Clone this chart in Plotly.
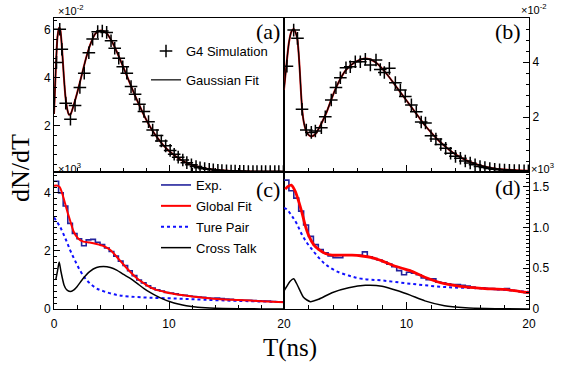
import numpy as np
import plotly.graph_objects as go

# ---------------- data ----------------
# (a) G4 simulation + Gaussian fit   (units of 1e-2)
a_t = [0.22, 0.5, 0.68, 1.02, 1.43, 1.83, 2.25, 2.63, 3.03, 3.36, 3.8, 4.2, 4.58, 4.96, 5.28,
       5.63, 5.98, 6.33, 6.7, 7.05, 7.43, 7.82, 8.22, 8.58, 8.96, 9.33, 9.71, 10.1, 10.45, 10.8,
       11.2, 11.55, 11.95, 12.35, 12.7, 13.1, 13.5, 13.85, 14.25, 14.6, 15.0, 15.4, 15.75, 16.15,
       16.5, 16.9, 17.3, 17.65, 18.05, 18.4, 18.8, 19.2, 19.55, 19.95]
a_v = [4.65, 6.03, 5.2, 2.95, 2.28, 2.85, 3.6, 4.2, 5.05, 5.62, 5.93, 5.96, 5.9, 5.55, 5.24,
       4.82, 4.47, 4.2, 3.64, 3.32, 2.9, 2.6, 2.18, 1.83, 1.6, 1.37, 1.17, 0.98, 0.82, 0.7,
       0.58, 0.47, 0.38, 0.31, 0.26, 0.22, 0.19, 0.17, 0.15, 0.14, 0.13, 0.12, 0.12, 0.11,
       0.11, 0.1, 0.1, 0.1, 0.1, 0.1, 0.1, 0.1, 0.1, 0.1]
a_fit_t = [0, 0.15, 0.3, 0.45, 0.55, 0.7, 0.85, 1.0, 1.15, 1.3, 1.45, 1.7, 2.0, 2.4, 2.8, 3.2,
           3.6, 4.0, 4.3, 4.6, 5.0, 5.5, 6.0, 6.5, 7.0, 7.5, 8.0, 8.5, 9.0, 9.5, 10, 11, 12, 13,
           14, 15, 16, 17, 18, 19, 20]
a_fit_v = [2.5, 4.3, 5.7, 6.1, 6.0, 5.2, 4.1, 3.2, 2.7, 2.47, 2.5, 2.85, 3.35, 4.1, 4.85, 5.45,
           5.85, 5.97, 5.95, 5.85, 5.55, 5.05, 4.48, 3.9, 3.32, 2.78, 2.28, 1.85, 1.5, 1.2, 0.96,
           0.6, 0.37, 0.24, 0.17, 0.13, 0.11, 0.1, 0.09, 0.09, 0.09]

# (b) G4 simulation + Gaussian fit   (units of 1e-2)
b_t = [0.24, 0.79, 1.1, 1.47, 1.82, 2.23, 2.56, 3.05, 3.37, 3.86, 4.24, 4.6, 5.06, 5.41, 5.82,
       6.23, 6.64, 7.05, 7.51, 7.86, 8.19, 8.6, 9.09, 9.5, 9.9, 10.4, 10.8, 11.2, 11.55, 12.0,
       12.4, 12.8, 13.2, 13.6, 14.0, 14.4, 14.8, 15.2, 15.6, 16.0, 16.4, 16.8, 17.2, 17.6, 18.0,
       18.4, 18.8, 19.2, 19.6, 19.95]
b_v = [3.85, 5.16, 4.86, 2.28, 1.53, 1.44, 1.49, 1.61, 2.01, 2.62, 3.07, 3.43, 3.79, 3.83, 4.01,
       4.01, 4.1, 3.89, 4.07, 3.73, 3.62, 3.77, 3.25, 2.98, 2.75, 2.44, 2.19, 1.82, 1.78, 1.32,
       1.2, 1.0, 0.86, 0.68, 0.57, 0.5, 0.4, 0.33, 0.26, 0.2, 0.16, 0.13, 0.1, 0.08, 0.07,
       0.06, 0.05, 0.05, 0.04, 0.04]
b_fit_t = [0, 0.2, 0.4, 0.6, 0.8, 1.0, 1.1, 1.2, 1.3, 1.4, 1.5, 1.6, 1.8, 2.0, 2.2, 2.5, 2.8,
           3.2, 3.5, 4.0, 4.5, 5.0, 5.5, 6.0, 6.5, 7.0, 7.5, 8.0, 8.5, 9.0, 9.5, 10, 10.5, 11,
           11.5, 12, 12.5, 13, 13.5, 14, 15, 16, 17, 18, 19, 20]
b_fit_v = [3.0, 3.9, 4.7, 5.1, 5.2, 5.0, 4.8, 4.3, 3.6, 2.8, 2.2, 1.85, 1.5, 1.35, 1.3, 1.35,
           1.55, 1.9, 2.2, 2.8, 3.3, 3.68, 3.9, 4.04, 4.12, 4.1, 3.98, 3.77, 3.5, 3.2, 2.9, 2.6,
           2.3, 2.0, 1.7, 1.44, 1.2, 0.99, 0.8, 0.64, 0.4, 0.24, 0.14, 0.09, 0.06, 0.05]

# bin edges of the experimental histograms (ns)
bin_edges = np.round(np.arange(0, 20.0001, 0.4), 2)

# (c) experiment (units of 1e3)
c_exp = [4.4, 4.0, 3.55, 2.95, 2.6, 2.42, 2.18, 2.38, 2.4, 2.3, 2.22, 2.1, 1.98, 1.82, 1.65,
         1.5, 1.32, 1.15, 1.0, 0.9, 0.8, 0.72, 0.66, 0.62, 0.57, 0.55, 0.52, 0.49, 0.47, 0.45,
         0.43, 0.41, 0.4, 0.38, 0.37, 0.38, 0.36, 0.34, 0.33, 0.32, 0.31, 0.3, 0.3, 0.29, 0.28,
         0.27, 0.27, 0.26, 0.25, 0.25]
c_fit_t = [0, 0.3, 0.5, 0.7, 0.96, 1.2, 1.4, 1.7, 2.1, 2.55, 3.1, 3.7, 4.3, 4.9, 5.45, 6.0, 6.6,
           7.2, 7.8, 8.35, 8.9, 9.5, 10.1, 10.8, 12, 13, 14.5, 16, 18, 20]
c_fit_v = [4.25, 4.25, 4.2, 4.0, 3.64, 3.3, 3.05, 2.67, 2.43, 2.32, 2.29, 2.24, 2.17, 2.03, 1.8,
           1.55, 1.29, 1.06, 0.89, 0.75, 0.66, 0.6, 0.54, 0.5, 0.43, 0.39, 0.34, 0.31, 0.27, 0.23]
c_pair_t = [0, 0.5, 1.0, 1.4, 1.8, 2.25, 2.7, 3.1, 3.7, 4.4, 5.5, 6.6, 8.3, 10.7, 13, 16, 20]
c_pair_v = [3.15, 2.85, 2.42, 2.03, 1.69, 1.34, 1.06, 0.89, 0.71, 0.6, 0.48, 0.43, 0.39, 0.36,
            0.32, 0.28, 0.24]
c_ct_t = [0.15, 0.3, 0.45, 0.6, 0.87, 1.1, 1.4, 1.7, 2.0, 2.55, 3.1, 3.7, 4.3, 4.9, 5.45, 6.0,
          6.6, 7.2, 7.8, 8.35, 8.9, 9.5, 10.1, 10.8, 11.5, 12.5, 14, 16, 18, 20]
c_ct_v = [1.0, 1.3, 1.62, 1.3, 0.83, 0.66, 0.6, 0.65, 0.77, 1.06, 1.29, 1.43, 1.46, 1.43, 1.34,
          1.2, 1.06, 0.89, 0.71, 0.57, 0.45, 0.34, 0.25, 0.17, 0.11, 0.06, 0.025, 0.01, 0.004,
          0.002]

# (d) experiment (units of 1e3)
d_exp = [1.58, 1.45, 1.36, 1.2, 1.03, 0.89, 0.79, 0.73, 0.69, 0.65, 0.63, 0.63, 0.66, 0.66,
         0.66, 0.66, 0.7, 0.64, 0.62, 0.6, 0.58, 0.55, 0.52, 0.47, 0.42, 0.45, 0.44, 0.42, 0.38,
         0.36, 0.37, 0.33, 0.32, 0.31, 0.3, 0.3, 0.29, 0.28, 0.27, 0.26, 0.26, 0.25, 0.25, 0.24,
         0.24, 0.25, 0.23, 0.22, 0.21, 0.2]
d_fit_t = [0.1, 0.3, 0.6, 0.93, 1.2, 1.47, 1.74, 2.02, 2.42, 2.83, 3.37, 3.92, 4.73, 5.55, 6.37,
           7.18, 8.0, 8.82, 9.63, 10.3, 11.5, 13.1, 14.8, 16.4, 18.0, 20]
d_fit_v = [1.47, 1.5, 1.52, 1.44, 1.32, 1.18, 1.02, 0.9, 0.79, 0.73, 0.68, 0.66, 0.66, 0.66, 0.65,
           0.63, 0.59, 0.54, 0.5, 0.47, 0.39, 0.31, 0.27, 0.25, 0.24, 0.2]
d_pair_t = [0, 0.24, 0.65, 1.06, 1.47, 1.88, 2.29, 2.83, 3.37, 4.19, 5.28, 6.37, 8.0, 10.3, 13.1,
            16.4, 20]
d_pair_v = [1.24, 1.22, 1.14, 1.04, 0.91, 0.81, 0.73, 0.63, 0.55, 0.47, 0.41, 0.37, 0.35, 0.31,
            0.27, 0.25, 0.21]
d_ct_t = [0, 0.24, 0.5, 0.79, 1.0, 1.2, 1.61, 2.15, 2.83, 3.92, 5.28, 6.64, 8.0, 9.36, 10.3, 11.5,
          13.1, 14.8, 16.5, 18, 20]
d_ct_v = [0.22, 0.28, 0.34, 0.37, 0.32, 0.26, 0.14, 0.09, 0.12, 0.2, 0.26, 0.29, 0.28, 0.22, 0.17,
          0.1, 0.04, 0.015, 0.005, 0.002, 0.001]

# tick labels
x_ticks = [0, 10, 20]
x_ticklabels_left = ["0", "10", "20"]
x_ticklabels_right = ["", "10", "20"]

# ---------------- figure ----------------
W, H = 569, 368
SANS = "Liberation Sans, Arial, sans-serif"
SERIF = "Liberation Serif, Times New Roman, serif"


def fx(p):
    return p / W


def fy(p):
    return 1 - p / H


xL = [fx(54), fx(284)]
xR = [fx(284), fx(529)]
yT = [fy(172), fy(18)]
yB = [fy(309), fy(172)]

fig = go.Figure()
step_x = list(bin_edges)
CROSS = dict(symbol="cross-thin", size=9, color="black", line=dict(color="black", width=1.5))

# (a)
fig.add_trace(go.Scatter(x=a_fit_t, y=a_fit_v, mode="lines", line=dict(color="#d01010", width=2.0, shape="spline", smoothing=0.6),
                         xaxis="x", yaxis="y", showlegend=False, hoverinfo="skip"))
fig.add_trace(go.Scatter(x=a_fit_t, y=a_fit_v, mode="lines", line=dict(color="black", width=1.2, shape="spline", smoothing=0.6),
                         xaxis="x", yaxis="y", name="Gaussian Fit", legend="legend", legendgroup="g2", legendrank=2))
fig.add_trace(go.Scatter(x=a_t, y=a_v, mode="markers", marker=CROSS,
                         xaxis="x", yaxis="y", name="G4 Simulation", legend="legend", legendgroup="g1", legendrank=1))
# (b)
fig.add_trace(go.Scatter(x=b_fit_t, y=b_fit_v, mode="lines", line=dict(color="#d01010", width=2.0, shape="spline", smoothing=0.6),
                         xaxis="x2", yaxis="y2", showlegend=False))
fig.add_trace(go.Scatter(x=b_fit_t, y=b_fit_v, mode="lines", line=dict(color="black", width=1.2, shape="spline", smoothing=0.6),
                         xaxis="x2", yaxis="y2", showlegend=False))
fig.add_trace(go.Scatter(x=b_t, y=b_v, mode="markers", marker=CROSS,
                         xaxis="x2", yaxis="y2", showlegend=False))

EXP_COL = "#23239c"
# (c)
fig.add_trace(go.Scatter(x=step_x, y=c_exp + [c_exp[-1]], mode="lines", line=dict(color=EXP_COL, width=1.6, shape="hv"),
                         xaxis="x3", yaxis="y3", name="Exp.", legend="legend2", legendgroup="c1", legendrank=1))
fig.add_trace(go.Scatter(x=c_pair_t, y=c_pair_v, mode="lines", line=dict(color="#1010ff", width=2, dash="3px,3px", shape="spline"),
                         xaxis="x3", yaxis="y3", name="Ture Pair", legend="legend2", legendgroup="c3", legendrank=3))
fig.add_trace(go.Scatter(x=c_ct_t, y=c_ct_v, mode="lines", line=dict(color="black", width=1.5, shape="spline", smoothing=0.6),
                         xaxis="x3", yaxis="y3", name="Cross Talk", legend="legend2", legendgroup="c4", legendrank=4))
fig.add_trace(go.Scatter(x=c_fit_t, y=c_fit_v, mode="lines", line=dict(color="red", width=2, shape="spline", smoothing=0.6),
                         xaxis="x3", yaxis="y3", name="Global Fit", legend="legend2", legendgroup="c2", legendrank=2))
# (d)
fig.add_trace(go.Scatter(x=step_x, y=d_exp + [d_exp[-1]], mode="lines", line=dict(color=EXP_COL, width=1.6, shape="hv"),
                         xaxis="x4", yaxis="y4", showlegend=False))
fig.add_trace(go.Scatter(x=d_pair_t, y=d_pair_v, mode="lines", line=dict(color="#1010ff", width=2, dash="3px,3px", shape="spline"),
                         xaxis="x4", yaxis="y4", showlegend=False))
fig.add_trace(go.Scatter(x=d_ct_t, y=d_ct_v, mode="lines", line=dict(color="black", width=1.5, shape="spline", smoothing=0.6),
                         xaxis="x4", yaxis="y4", showlegend=False))
fig.add_trace(go.Scatter(x=d_fit_t, y=d_fit_v, mode="lines", line=dict(color="red", width=2.8, shape="spline", smoothing=0.6),
                         xaxis="x4", yaxis="y4", showlegend=False))

tickfont = dict(family=SANS, size=12, color="black")
base = dict(showline=True, linecolor="black", linewidth=1, mirror=True, showgrid=False, zeroline=False,
            ticks="inside", tickcolor="black", tickfont=tickfont, fixedrange=True, automargin=False)


def xax(domain, anchor, labels, texts):
    d = dict(base)
    d.update(domain=domain, anchor=anchor, range=[0, 20], tickmode="array", tickvals=x_ticks, ticktext=texts,
             ticklen=7, showticklabels=labels, ticklabelstandoff=4,
             minor=dict(ticks="inside", dtick=2, tick0=0, ticklen=4, tickcolor="black", showgrid=False))
    return d


def yax(domain, anchor, rng, vals, texts, minor_dtick, side="left"):
    d = dict(base)
    d.update(domain=domain, anchor=anchor, range=rng, tickmode="array", tickvals=vals, ticktext=texts,
             ticklen=6, side=side,
             minor=dict(ticks="inside", dtick=minor_dtick, tick0=0, ticklen=3, tickcolor="black", showgrid=False))
    return d


fig.update_layout(
    width=W, height=H, margin=dict(l=0, r=0, t=0, b=0, autoexpand=False),
    paper_bgcolor="white", plot_bgcolor="white",
    xaxis=xax(xL, "y", False, x_ticklabels_left),
    xaxis2=xax(xR, "y2", False, x_ticklabels_right),
    xaxis3=xax(xL, "y3", True, x_ticklabels_left),
    xaxis4=xax(xR, "y4", True, x_ticklabels_right),
    yaxis=yax(yT, "x", [0.08, 6.5], [2, 4, 6], ["2", "4", "6"], 0.4),
    yaxis2=yax(yT, "x2", [0, 5.6], [2, 4], ["2", "4"], 0.4, side="right"),
    yaxis3=yax(yB, "x3", [0, 4.72], [0, 2, 4], ["0", "2", "4"], 0.2),
    yaxis4=yax(yB, "x4", [0, 1.68], [0, 0.5, 1.0, 1.5], ["0", "0.5", "1.0", "1.5"], 0.05, side="right"),
    legend=dict(x=fx(146), y=fy(36), xanchor="left", yanchor="top", bgcolor="rgba(0,0,0,0)",
                font=dict(family=SANS, size=13, color="black"), itemwidth=30, traceorder="grouped",
                tracegroupgap=9),
    legend2=dict(x=fx(156), y=fy(170), xanchor="left", yanchor="top", bgcolor="rgba(0,0,0,0)",
                 font=dict(family=SANS, size=13, color="black"), itemwidth=30, traceorder="grouped",
                 tracegroupgap=1),
    showlegend=True,
)

ann = []
for txt, x, y in [("(a)", 268, 32), ("(b)", 508, 32), ("(c)", 268, 189), ("(d)", 508, 187)]:
    ann.append(dict(text=txt, x=fx(x), y=fy(y), xref="paper", yref="paper", showarrow=False,
                    xanchor="center", yanchor="middle", font=dict(family=SERIF, size=22, color="black")))
for txt, x, y in [("×10<sup>-2</sup>", 56, 10), ("×10<sup>-2</sup>", 519, 9),
                  ("×10<sup>3</sup>", 56, 168), ("×10<sup>3</sup>", 529, 168)]:
    ann.append(dict(text=txt, x=fx(x), y=fy(y), xref="paper", yref="paper", showarrow=False,
                    xanchor="left", yanchor="middle", font=dict(family=SANS, size=11, color="black")))
ann.append(dict(text="dN/dT", x=fx(20), y=fy(168), xref="paper", yref="paper", showarrow=False, textangle=-90,
                xanchor="center", yanchor="middle", font=dict(family=SERIF, size=26, color="black")))
ann.append(dict(text="T(ns)", x=fx(290), y=fy(348), xref="paper", yref="paper", showarrow=False,
                xanchor="center", yanchor="middle", font=dict(family=SERIF, size=25, color="black")))
fig.update_layout(annotations=ann)

# remove the browser's default 8px page margin so the figure fills the window exactly
fig.write_html("out.html", config={"displayModeBar": False},
               post_script="document.body.style.margin='0px';")
